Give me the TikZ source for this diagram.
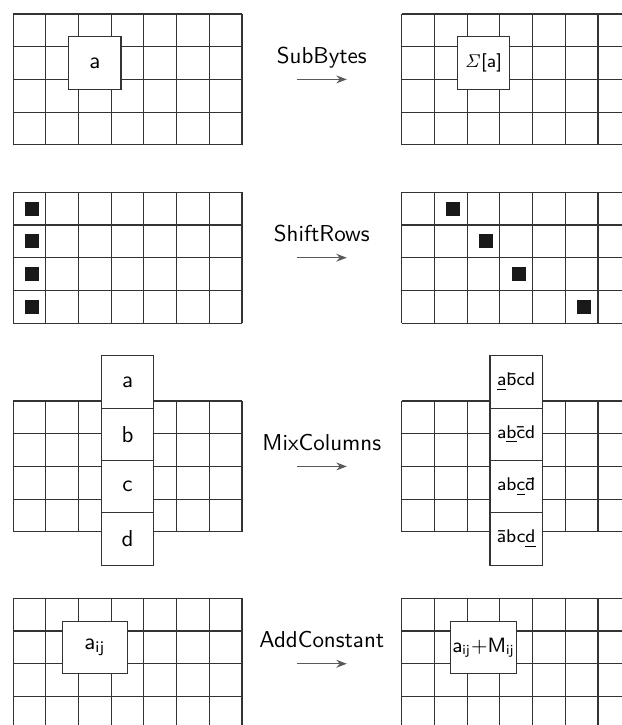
\documentclass[tikz,border=0pt]{standalone}
\usepackage{tikz}
\usetikzlibrary{arrows.meta}
\renewcommand{\familydefault}{\sfdefault}

\tikzset{
  gridline/.style={draw=black!80,line width=0.5pt},
  cellbox/.style={draw=black!80,line width=0.5pt,fill=white,minimum width=0.8cm,minimum height=0.8cm,inner sep=0.5pt},
  widebox/.style={cellbox,minimum width=1cm},
  oplabel/.style={anchor=base,inner sep=0pt},
  oparrow/.style={draw=black!65,line width=0.6pt,-{Stealth[length=1.6mm,width=1.2mm]}},
  token/.style={fill=black!90}
}

% 7x4 state grid, #1 = left, #2 = bottom
\newcommand{\stategrid}[2]{%
  \foreach \i in {0,...,7} \draw[gridline] (#1+\i,#2) -- ++(0,4);
  \foreach \j in {0,...,4} \draw[gridline] (#1,#2+\j) -- ++(7,0);
}

\begin{document}
\begin{tikzpicture}[x=0.5cm,y=0.5cm]
\useasboundingbox (0,0) rectangle (19.02,-22.17);
\clip (0,0) rectangle (19.02,-22.17);
% grids
\foreach \b in {-4.428,-9.881,-16.263,-22.297} {
  \stategrid{0.4}{\b}
  \stategrid{12.284}{\b}
}
% operation names and arrows
\foreach \op/\txt/\y in {sub/SubBytes/-2.428,shift/ShiftRows/-7.881,mix/MixColumns/-14.263,add/AddConstant/-20.297} {
  \node[oplabel] (\op txt) at (9.84,\y+0.5) {\txt};
  \coordinate (\op A) at (9.075,\y);
  \coordinate (\op B) at (10.605,\y);
  \draw[oparrow] (\op A) -- (\op B);
}
% SubBytes
\node[cellbox] (a) at (2.9,-1.928) {a};
\node[cellbox,font=\footnotesize] (sa) at (14.784,-1.928) {$\mathit{\Sigma}$[a]};
% ShiftRows
\foreach \c/\r in {1/1,1/2,1/3,1/4}
  \fill[token] (0.4+\c-0.42,-5.381-\r) ++(-0.215,-0.215) rectangle ++(0.43,0.43);
\foreach \c/\r in {2/1,3/2,4/3,6/4}
  \fill[token] (12.284+\c-0.42,-5.381-\r) ++(-0.215,-0.215) rectangle ++(0.43,0.43);
% MixColumns
\foreach \t [count=\k] in {a,b,c,d}
  \node[cellbox] (colL\k) at (3.9,-10.08-1.6*\k) {\t};
\foreach \t [count=\k] in {{\underline{a}\=bcd},{a\underline{b}\=cd},{ab\underline{c}\=d},{\=abc\underline{d}}}
  \node[cellbox,font=\footnotesize] (colR\k) at (15.784,-10.08-1.6*\k) {\t};
% AddConstant
\node[widebox] (aij) at (2.9,-19.797) {a\textsubscript{ij}};
\node[widebox,font=\small] (aijm) at (14.784,-19.797) {a\textsubscript{ij}+M\textsubscript{ij}};
\end{tikzpicture}
\end{document}
